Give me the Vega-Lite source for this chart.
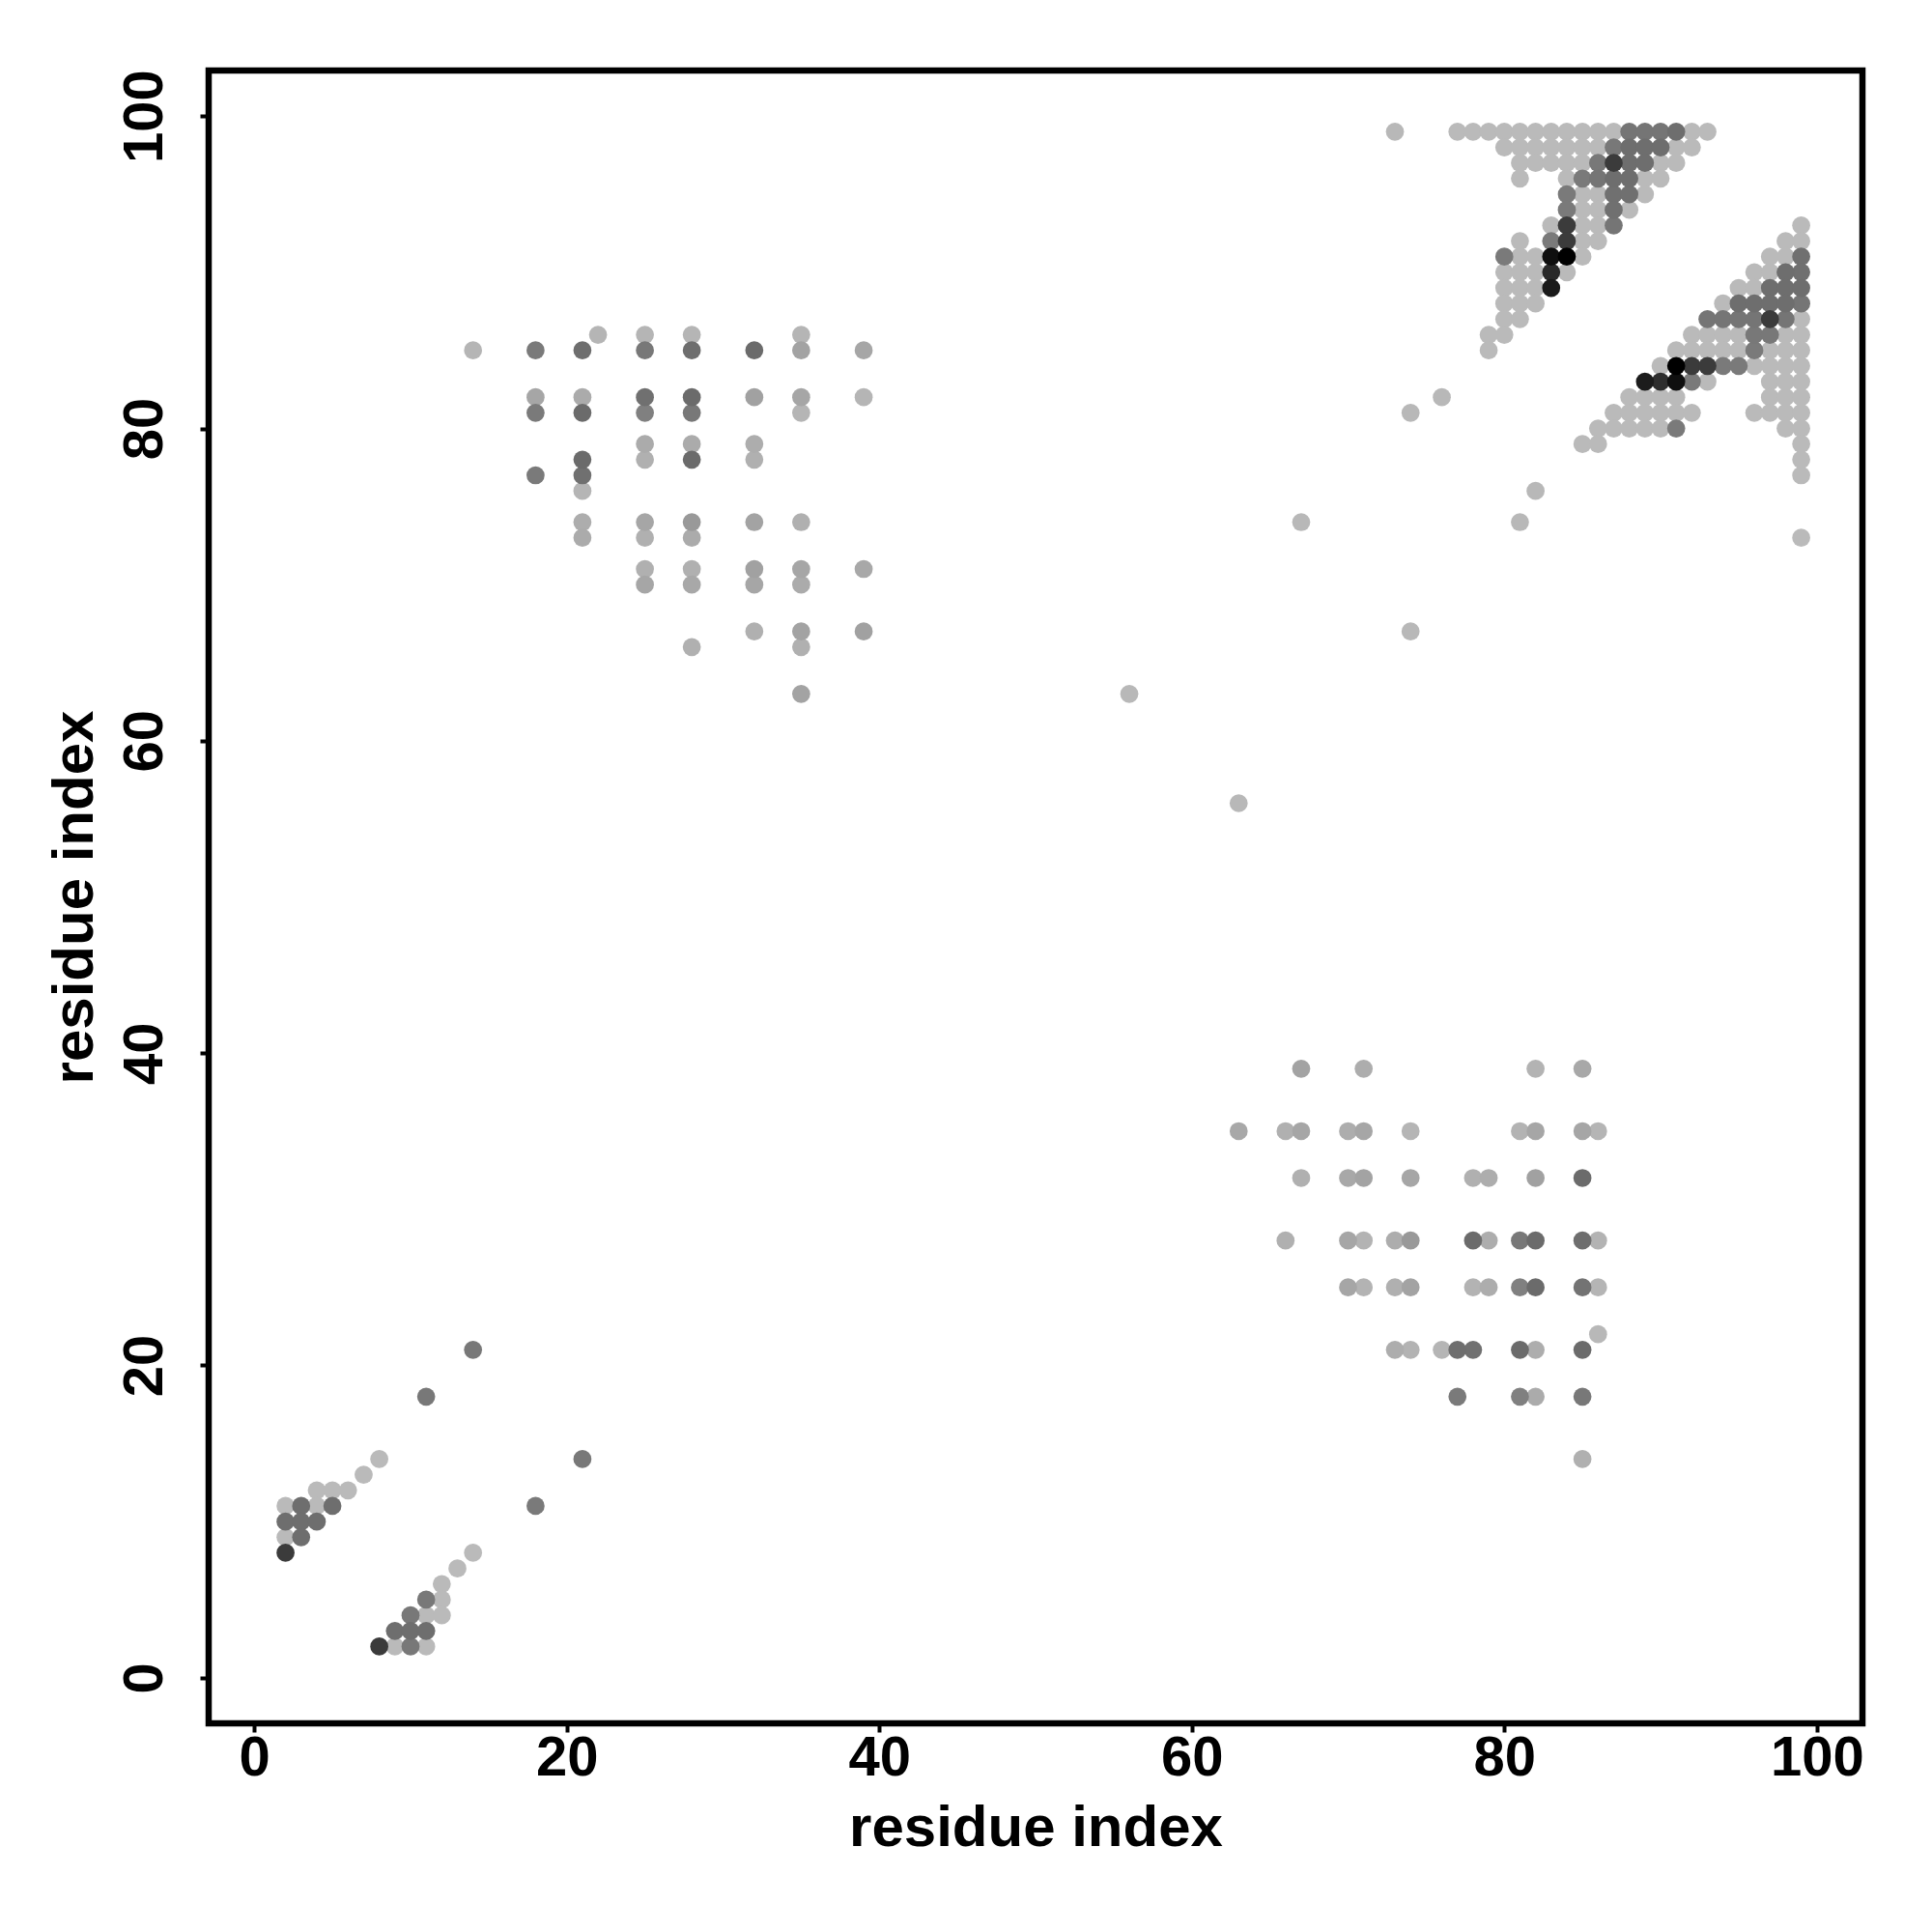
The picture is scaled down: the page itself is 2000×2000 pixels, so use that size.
{"$schema":"https://vega.github.io/schema/vega-lite/v6.json","width":1712,"height":1711,"autosize":"none","padding":{"left":216,"top":73,"right":72,"bottom":216},"background":"white","config":{"view":{"stroke":"#000000","strokeWidth":6.5,"fill":"white"},"axis":{"grid":false,"domain":false,"labelFont":"Liberation Sans","titleFont":"Liberation Sans","labelFontWeight":"bold","titleFontWeight":"bold","labelFontSize":58,"titleFontSize":60,"labelColor":"#000000","titleColor":"#000000","tickColor":"#000000","tickWidth":4,"tickSize":9}},"data":{"values":[
{"i":22,"j":86,"w":0.29},{"i":25,"j":86,"w":0.29},{"i":28,"j":86,"w":0.29},{"i":35,"j":86,"w":0.29},
{"i":14,"j":85,"w":0.29},{"i":18,"j":85,"w":0.52},{"i":21,"j":85,"w":0.57},{"i":25,"j":85,"w":0.53},{"i":28,"j":85,"w":0.57},{"i":32,"j":85,"w":0.58},{"i":35,"j":85,"w":0.36},{"i":39,"j":85,"w":0.35},
{"i":18,"j":82,"w":0.35},{"i":21,"j":82,"w":0.33},{"i":25,"j":82,"w":0.56},{"i":28,"j":82,"w":0.58},{"i":32,"j":82,"w":0.37},{"i":35,"j":82,"w":0.35},{"i":39,"j":82,"w":0.29},
{"i":18,"j":81,"w":0.52},{"i":21,"j":81,"w":0.58},{"i":25,"j":81,"w":0.5},{"i":28,"j":81,"w":0.53},{"i":35,"j":81,"w":0.29},
{"i":25,"j":79,"w":0.33},{"i":28,"j":79,"w":0.33},{"i":32,"j":79,"w":0.32},
{"i":21,"j":78,"w":0.58},{"i":25,"j":78,"w":0.31},{"i":28,"j":78,"w":0.58},{"i":32,"j":78,"w":0.31},
{"i":18,"j":77,"w":0.52},{"i":21,"j":77,"w":0.56},{"i":21,"j":76,"w":0.29},
{"i":21,"j":74,"w":0.32},{"i":25,"j":74,"w":0.35},{"i":28,"j":74,"w":0.4},{"i":32,"j":74,"w":0.36},{"i":35,"j":74,"w":0.31},
{"i":21,"j":73,"w":0.33},{"i":25,"j":73,"w":0.31},{"i":28,"j":73,"w":0.33},
{"i":25,"j":71,"w":0.31},{"i":28,"j":71,"w":0.31},{"i":32,"j":71,"w":0.37},{"i":35,"j":71,"w":0.35},{"i":39,"j":71,"w":0.34},
{"i":25,"j":70,"w":0.35},{"i":28,"j":70,"w":0.34},{"i":32,"j":70,"w":0.35},{"i":35,"j":70,"w":0.33},
{"i":32,"j":67,"w":0.31},{"i":35,"j":67,"w":0.36},{"i":39,"j":67,"w":0.37},{"i":28,"j":66,"w":0.31},{"i":35,"j":66,"w":0.31},{"i":35,"j":63,"w":0.36},
{"i":67,"j":39,"w":0.36},{"i":71,"j":39,"w":0.32},{"i":82,"j":39,"w":0.3},{"i":85,"j":39,"w":0.34},
{"i":63,"j":35,"w":0.34},{"i":66,"j":35,"w":0.31},{"i":67,"j":35,"w":0.35},{"i":70,"j":35,"w":0.32},{"i":71,"j":35,"w":0.35},{"i":74,"j":35,"w":0.29},{"i":81,"j":35,"w":0.3},{"i":82,"j":35,"w":0.35},{"i":85,"j":35,"w":0.35},{"i":86,"j":35,"w":0.29},
{"i":67,"j":32,"w":0.31},{"i":70,"j":32,"w":0.34},{"i":71,"j":32,"w":0.36},{"i":74,"j":32,"w":0.35},{"i":78,"j":32,"w":0.31},{"i":79,"j":32,"w":0.32},{"i":82,"j":32,"w":0.37},{"i":85,"j":32,"w":0.58},
{"i":66,"j":28,"w":0.31},{"i":70,"j":28,"w":0.35},{"i":71,"j":28,"w":0.3},{"i":73,"j":28,"w":0.32},{"i":74,"j":28,"w":0.4},{"i":78,"j":28,"w":0.58},{"i":79,"j":28,"w":0.32},{"i":81,"j":28,"w":0.53},{"i":82,"j":28,"w":0.58},{"i":85,"j":28,"w":0.57},{"i":86,"j":28,"w":0.3},
{"i":70,"j":25,"w":0.35},{"i":71,"j":25,"w":0.3},{"i":73,"j":25,"w":0.31},{"i":74,"j":25,"w":0.36},{"i":78,"j":25,"w":0.3},{"i":79,"j":25,"w":0.32},{"i":81,"j":25,"w":0.5},{"i":82,"j":25,"w":0.58},{"i":85,"j":25,"w":0.55},{"i":86,"j":25,"w":0.29},
{"i":86,"j":22,"w":0.28},
{"i":73,"j":21,"w":0.32},{"i":74,"j":21,"w":0.3},{"i":76,"j":21,"w":0.29},{"i":77,"j":21,"w":0.57},{"i":78,"j":21,"w":0.56},{"i":81,"j":21,"w":0.58},{"i":82,"j":21,"w":0.32},{"i":85,"j":21,"w":0.58},
{"i":77,"j":18,"w":0.52},{"i":81,"j":18,"w":0.5},{"i":82,"j":18,"w":0.33},{"i":85,"j":18,"w":0.53},{"i":85,"j":14,"w":0.31},
{"i":73,"j":99,"w":0.28},{"i":67,"j":74,"w":0.28},{"i":74,"j":67,"w":0.28},{"i":56,"j":63,"w":0.28},{"i":63,"j":56,"w":0.28},{"i":81,"j":74,"w":0.28},{"i":82,"j":76,"w":0.28},{"i":76,"j":82,"w":0.28},{"i":74,"j":81,"w":0.28},
{"i":14,"j":21,"w":0.53},{"i":11,"j":18,"w":0.53},{"i":21,"j":14,"w":0.53},{"i":18,"j":11,"w":0.52},
{"i":14,"j":8,"w":0.27},{"i":13,"j":7,"w":0.27},{"i":12,"j":6,"w":0.27},{"i":12,"j":5,"w":0.27},{"i":11,"j":5,"w":0.53},{"i":10,"j":4,"w":0.53},{"i":11,"j":4,"w":0.27},{"i":12,"j":4,"w":0.27},{"i":9,"j":3,"w":0.57},{"i":10,"j":3,"w":0.57},{"i":11,"j":3,"w":0.57},{"i":8,"j":2,"w":0.77},{"i":9,"j":2,"w":0.27},{"i":10,"j":2,"w":0.53},{"i":11,"j":2,"w":0.27},
{"i":8,"j":14,"w":0.27},{"i":7,"j":13,"w":0.27},{"i":4,"j":12,"w":0.27},{"i":5,"j":12,"w":0.27},{"i":6,"j":12,"w":0.27},{"i":2,"j":11,"w":0.27},{"i":3,"j":11,"w":0.57},{"i":4,"j":11,"w":0.27},{"i":5,"j":11,"w":0.57},{"i":2,"j":10,"w":0.57},{"i":3,"j":10,"w":0.57},{"i":4,"j":10,"w":0.57},{"i":2,"j":9,"w":0.27},{"i":3,"j":9,"w":0.57},{"i":2,"j":8,"w":0.77},
{"i":77,"j":99,"w":0.27},{"i":78,"j":99,"w":0.27},{"i":79,"j":99,"w":0.27},{"i":80,"j":99,"w":0.27},{"i":81,"j":99,"w":0.27},{"i":82,"j":99,"w":0.27},{"i":83,"j":99,"w":0.27},{"i":84,"j":99,"w":0.27},{"i":85,"j":99,"w":0.27},{"i":86,"j":99,"w":0.27},{"i":87,"j":99,"w":0.27},{"i":88,"j":99,"w":0.54},{"i":89,"j":99,"w":0.54},{"i":90,"j":99,"w":0.54},{"i":91,"j":99,"w":0.57},{"i":92,"j":99,"w":0.27},{"i":93,"j":99,"w":0.27},
{"i":80,"j":98,"w":0.27},{"i":81,"j":98,"w":0.27},{"i":82,"j":98,"w":0.27},{"i":83,"j":98,"w":0.27},{"i":84,"j":98,"w":0.27},{"i":85,"j":98,"w":0.27},{"i":86,"j":98,"w":0.27},{"i":87,"j":98,"w":0.53},{"i":88,"j":98,"w":0.57},{"i":89,"j":98,"w":0.57},{"i":90,"j":98,"w":0.57},{"i":91,"j":98,"w":0.27},{"i":92,"j":98,"w":0.27},
{"i":81,"j":97,"w":0.27},{"i":82,"j":97,"w":0.27},{"i":83,"j":97,"w":0.27},{"i":84,"j":97,"w":0.27},{"i":85,"j":97,"w":0.27},{"i":86,"j":97,"w":0.53},{"i":87,"j":97,"w":0.77},{"i":88,"j":97,"w":0.57},{"i":89,"j":97,"w":0.57},{"i":90,"j":97,"w":0.27},{"i":91,"j":97,"w":0.27},
{"i":81,"j":96,"w":0.27},{"i":84,"j":96,"w":0.27},{"i":85,"j":96,"w":0.52},{"i":86,"j":96,"w":0.54},{"i":87,"j":96,"w":0.57},{"i":88,"j":96,"w":0.57},{"i":89,"j":96,"w":0.27},{"i":90,"j":96,"w":0.27},
{"i":84,"j":95,"w":0.52},{"i":85,"j":95,"w":0.27},{"i":86,"j":95,"w":0.27},{"i":87,"j":95,"w":0.56},{"i":88,"j":95,"w":0.56},{"i":89,"j":95,"w":0.27},
{"i":84,"j":94,"w":0.52},{"i":85,"j":94,"w":0.27},{"i":86,"j":94,"w":0.27},{"i":87,"j":94,"w":0.56},{"i":88,"j":94,"w":0.27},
{"i":83,"j":93,"w":0.27},{"i":84,"j":93,"w":0.77},{"i":85,"j":93,"w":0.27},{"i":86,"j":93,"w":0.27},{"i":87,"j":93,"w":0.54},
{"i":81,"j":92,"w":0.27},{"i":83,"j":92,"w":0.52},{"i":84,"j":92,"w":0.77},{"i":85,"j":92,"w":0.27},{"i":86,"j":92,"w":0.27},
{"i":80,"j":91,"w":0.52},{"i":81,"j":91,"w":0.27},{"i":82,"j":91,"w":0.27},{"i":83,"j":91,"w":0.94},{"i":84,"j":91,"w":1},{"i":85,"j":91,"w":0.27},
{"i":80,"j":90,"w":0.27},{"i":81,"j":90,"w":0.27},{"i":82,"j":90,"w":0.27},{"i":83,"j":90,"w":0.84},{"i":84,"j":90,"w":0.27},
{"i":80,"j":89,"w":0.27},{"i":81,"j":89,"w":0.27},{"i":82,"j":89,"w":0.27},{"i":83,"j":89,"w":0.9},
{"i":80,"j":88,"w":0.27},{"i":81,"j":88,"w":0.27},{"i":82,"j":88,"w":0.27},
{"i":80,"j":87,"w":0.27},{"i":81,"j":87,"w":0.27},{"i":79,"j":86,"w":0.27},{"i":80,"j":86,"w":0.27},{"i":79,"j":85,"w":0.27},
{"i":99,"j":93,"w":0.27},{"i":98,"j":92,"w":0.27},{"i":99,"j":92,"w":0.27},
{"i":97,"j":91,"w":0.27},{"i":98,"j":91,"w":0.27},{"i":99,"j":91,"w":0.56},
{"i":96,"j":90,"w":0.27},{"i":97,"j":90,"w":0.27},{"i":98,"j":90,"w":0.57},{"i":99,"j":90,"w":0.56},
{"i":95,"j":89,"w":0.27},{"i":96,"j":89,"w":0.27},{"i":97,"j":89,"w":0.57},{"i":98,"j":89,"w":0.57},{"i":99,"j":89,"w":0.57},
{"i":94,"j":88,"w":0.27},{"i":95,"j":88,"w":0.57},{"i":96,"j":88,"w":0.57},{"i":97,"j":88,"w":0.57},{"i":98,"j":88,"w":0.57},{"i":99,"j":88,"w":0.54},
{"i":93,"j":87,"w":0.54},{"i":94,"j":87,"w":0.54},{"i":95,"j":87,"w":0.54},{"i":96,"j":87,"w":0.54},{"i":97,"j":87,"w":0.77},{"i":98,"j":87,"w":0.54},{"i":99,"j":87,"w":0.27},
{"i":92,"j":86,"w":0.27},{"i":93,"j":86,"w":0.27},{"i":94,"j":86,"w":0.27},{"i":95,"j":86,"w":0.27},{"i":96,"j":86,"w":0.53},{"i":97,"j":86,"w":0.53},{"i":98,"j":86,"w":0.27},{"i":99,"j":86,"w":0.27},
{"i":91,"j":85,"w":0.27},{"i":92,"j":85,"w":0.27},{"i":93,"j":85,"w":0.27},{"i":94,"j":85,"w":0.27},{"i":95,"j":85,"w":0.27},{"i":96,"j":85,"w":0.52},{"i":97,"j":85,"w":0.27},{"i":98,"j":85,"w":0.27},{"i":99,"j":85,"w":0.27},
{"i":90,"j":84,"w":0.27},{"i":91,"j":84,"w":1},{"i":92,"j":84,"w":0.77},{"i":93,"j":84,"w":0.77},{"i":94,"j":84,"w":0.52},{"i":95,"j":84,"w":0.52},{"i":96,"j":84,"w":0.27},{"i":97,"j":84,"w":0.27},{"i":98,"j":84,"w":0.27},{"i":99,"j":84,"w":0.27},
{"i":89,"j":83,"w":0.89},{"i":90,"j":83,"w":0.82},{"i":91,"j":83,"w":0.94},{"i":92,"j":83,"w":0.52},{"i":93,"j":83,"w":0.27},{"i":97,"j":83,"w":0.27},{"i":98,"j":83,"w":0.27},{"i":99,"j":83,"w":0.27},
{"i":88,"j":82,"w":0.27},{"i":89,"j":82,"w":0.27},{"i":90,"j":82,"w":0.27},{"i":91,"j":82,"w":0.27},{"i":97,"j":82,"w":0.27},{"i":98,"j":82,"w":0.27},{"i":99,"j":82,"w":0.27},
{"i":87,"j":81,"w":0.27},{"i":88,"j":81,"w":0.27},{"i":89,"j":81,"w":0.27},{"i":90,"j":81,"w":0.27},{"i":91,"j":81,"w":0.27},{"i":92,"j":81,"w":0.27},{"i":96,"j":81,"w":0.27},{"i":97,"j":81,"w":0.27},{"i":98,"j":81,"w":0.27},{"i":99,"j":81,"w":0.27},
{"i":86,"j":80,"w":0.27},{"i":87,"j":80,"w":0.27},{"i":88,"j":80,"w":0.27},{"i":89,"j":80,"w":0.27},{"i":90,"j":80,"w":0.27},{"i":91,"j":80,"w":0.52},{"i":98,"j":80,"w":0.27},{"i":99,"j":80,"w":0.27},
{"i":85,"j":79,"w":0.27},{"i":86,"j":79,"w":0.27},{"i":99,"j":79,"w":0.27},{"i":99,"j":78,"w":0.27},{"i":99,"j":77,"w":0.27},{"i":99,"j":73,"w":0.27}
]},"mark":{"type":"point","filled":true,"opacity":1,"size":350,"clip":true},"encoding":{"x":{"field":"i","type":"quantitative","scale":{"domain":[-2.92,102.92],"nice":false,"zero":false},"axis":{"values":[0,20,40,60,80,100],"title":"residue index","labelPadding":-2,"labelBaseline":"top","titlePadding":14}},"y":{"field":"j","type":"quantitative","scale":{"domain":[-2.92,102.92],"nice":false,"zero":false},"axis":{"values":[0,20,40,60,80,100],"title":"residue index","labelAngle":-90,"labelAlign":"center","labelBaseline":"bottom","labelPadding":28,"titlePadding":13}},"color":{"field":"w","type":"quantitative","scale":{"type":"linear","domain":[0,1],"range":["#ffffff","#000000"],"interpolate":"rgb"},"legend":null},"order":{"field":"w","type":"quantitative"}}}
